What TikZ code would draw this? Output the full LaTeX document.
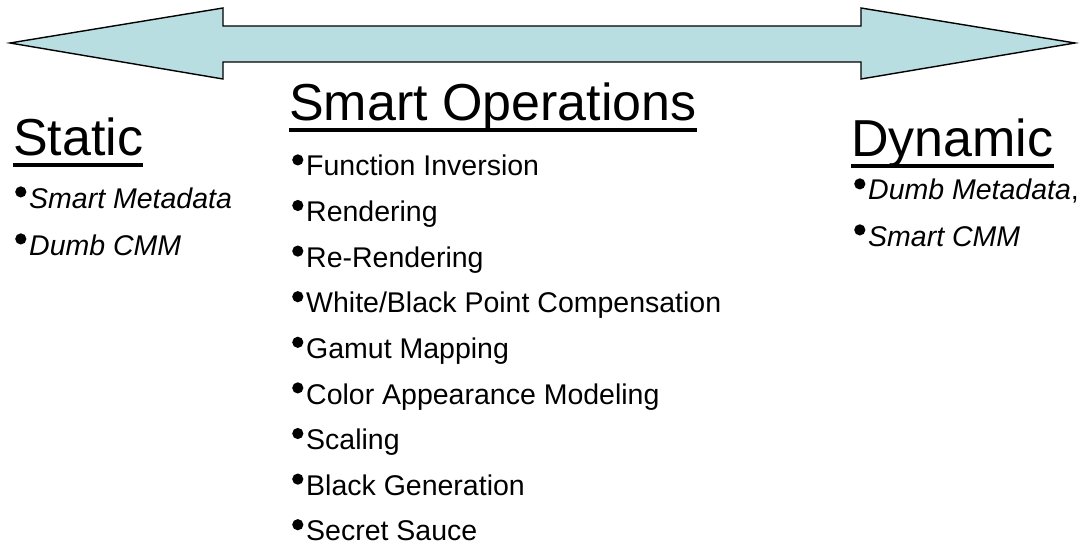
\documentclass[tikz,border=0pt]{standalone}
\usepackage{fontspec}
\setmainfont{Liberation Sans}
\definecolor{arrowfill}{RGB}{184,222,226}
\newcommand\bul{\makebox[14pt][l]{\raisebox{10.5pt}{\tikz\fill (0,0) circle (5.6pt);}}}
\begin{document}
\begin{tikzpicture}[x=1pt,y=-1pt,
  heading/.style={anchor=base west,inner sep=0pt,font=\fontsize{52}{60}\selectfont},
  item/.style={anchor=base west,inner sep=0pt,font=\fontsize{28.5}{32}\selectfont},
  ul/.style={line width=3.8pt}]
\useasboundingbox (0,0) rectangle (1086,548);
% double arrow
\draw[fill=arrowfill,line width=1.4pt,line join=miter]
  (10,43) -- (223,8) -- (223,26) -- (861,26) -- (861,8) -- (1075,43)
  -- (861,79) -- (861,62) -- (223,62) -- (223,79) -- cycle;
% headings
\node[heading] (st) at (13,156) {Static};
\node[heading] (so) at (289,121) {Smart Operations};
\node[heading] (dy) at (851,157) {Dynamic};
\draw[ul] ([yshift=-9pt]st.base west) -- ([yshift=-9pt]st.base east);
\draw[ul] ([yshift=-9pt]so.base west) -- ([yshift=-9pt]so.base east);
\draw[ul] ([yshift=-9pt]dy.base west) -- ([yshift=-9pt]dy.base east);
% static items
\node[item] (s1) at (15,208) {\bul\textit{Smart Metadata}};
\node[item] (s2) at (15,255) {\bul\textit{Dumb CMM}};
% smart operations items
\node[item] (o1) at (292,176) {\bul Function Inversion};
\node[item] (o2) at (292,221.6) {\bul Rendering};
\node[item] (o3) at (292,267.2) {\bul Re-Rendering};
\node[item] (o4) at (292,312.8) {\bul White/Black Point Compensation};
\node[item] (o5) at (292,358.4) {\bul Gamut Mapping};
\node[item] (o6) at (292,404) {\bul Color Appearance Modeling};
\node[item] (o7) at (292,449.6) {\bul Scaling};
\node[item] (o8) at (292,495.2) {\bul Black Generation};
\node[item] (o9) at (292,540.8) {\bul Secret Sauce};
% dynamic items
\node[item] (d1) at (854,200) {\bul\textit{Dumb Metadata},};
\node[item] (d2) at (854,246) {\bul\textit{Smart CMM}};
\end{tikzpicture}
\end{document}
